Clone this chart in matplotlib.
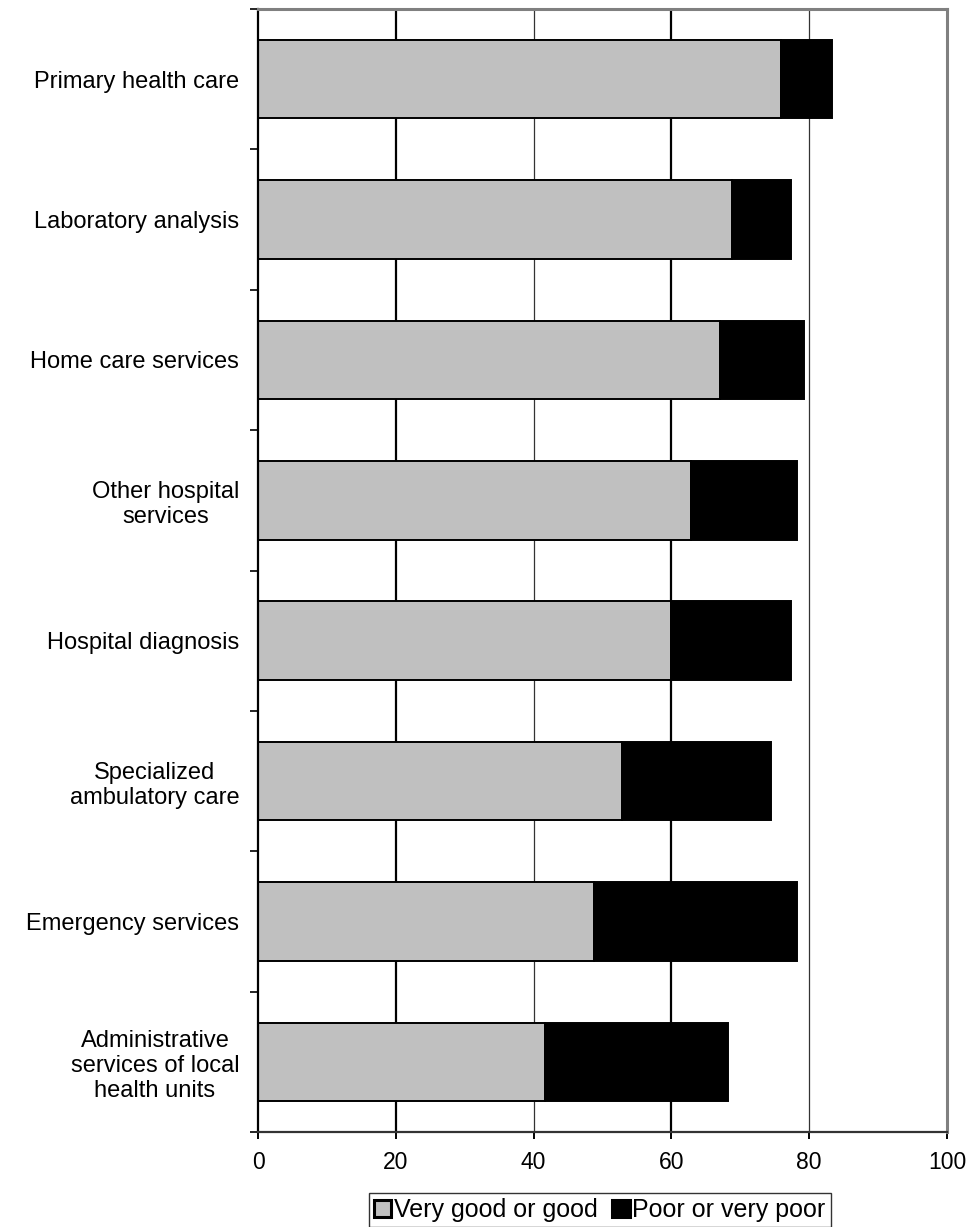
import matplotlib.pyplot as plt

plt.rcParams['font.family'] = ['Liberation Sans', 'DejaVu Sans']

# Share of respondents (%) rating each service
categories = ['Primary health care', 'Laboratory analysis', 'Home care services',
              'Other hospital\nservices', 'Hospital diagnosis',
              'Specialized\nambulatory care', 'Emergency services',
              'Administrative\nservices of local\nhealth units']
good = [75.9, 68.8, 67.0, 62.8, 59.9, 52.9, 48.8, 41.7]
poor = [7.4, 8.6, 12.2, 15.5, 17.5, 21.5, 29.5, 26.5]
x_ticks = [0, 20, 40, 60, 80, 100]

fig = plt.figure(figsize=(9.72, 12.27), dpi=100)
ax = fig.add_axes([258 / 972, 1 - 1132 / 1227, (947 - 258) / 972, (1132 - 9) / 1227])

y = list(range(len(categories)))

# vertical gridlines, alternating heavy / light like the original
for i, t in enumerate(x_ticks[1:-1]):
    if i % 2 == 0:
        ax.axvline(t, color='black', linewidth=1.6, zorder=0)
    else:
        ax.axvline(t, color='#333333', linewidth=0.9, zorder=0)

ax.barh(y, good, height=0.56, color='#C0C0C0', edgecolor='black',
        linewidth=1.4, label='Very good or good', zorder=2)
ax.barh(y, poor, left=good, height=0.56, color='black', edgecolor='black',
        linewidth=1.4, label='Poor or very poor', zorder=2)

ax.set_xlim(0, 100)
ax.set_ylim(len(categories) - 0.5, -0.5)
ax.set_xticks(x_ticks)
ax.set_yticks(y)
ax.set_yticklabels(categories, multialignment='center')
ax.set_yticks([i - 0.5 for i in range(len(categories) + 1)], minor=True)

ax.tick_params(axis='y', which='major', length=0, pad=13.5, labelsize=17)
ax.tick_params(axis='y', which='minor', length=6, width=1.2, direction='out')
ax.tick_params(axis='x', length=5, width=1.4, direction='out', pad=9, labelsize=16.5)

for side in ['top', 'right']:
    ax.spines[side].set_color('#808080')
    ax.spines[side].set_linewidth(2.2)
ax.spines['left'].set_color('black')
ax.spines['left'].set_linewidth(1.6)
ax.spines['bottom'].set_color('#333333')
ax.spines['bottom'].set_linewidth(1.6)

leg = fig.legend(loc='lower center', bbox_to_anchor=(0.617, 0.0), ncol=2,
                 fontsize=18, frameon=True, fancybox=False, borderpad=0.2,
                 handlelength=0.7, handleheight=0.7, handletextpad=0.1,
                 columnspacing=0.6, borderaxespad=0)
leg.get_frame().set_edgecolor('black')
leg.get_frame().set_linewidth(1.0)
for h in leg.legend_handles:
    h.set_linewidth(2.2)

fig.savefig('out.png', dpi=100)
